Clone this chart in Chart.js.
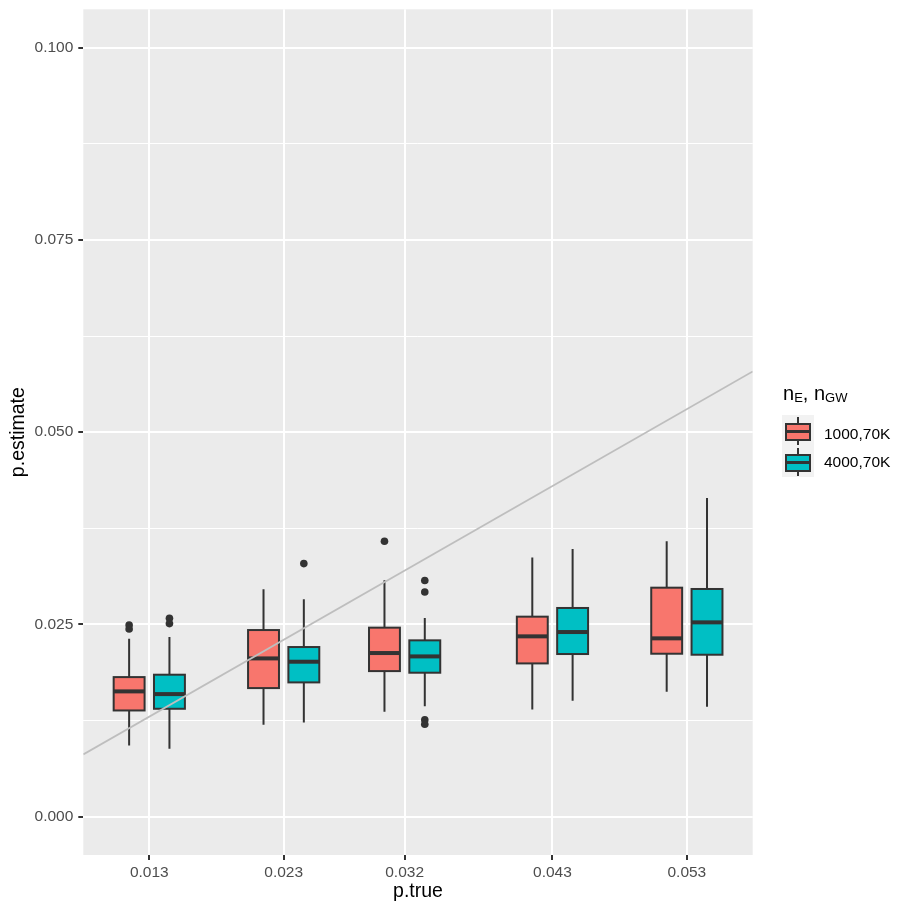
<!DOCTYPE html>
<html>
<head>
<meta charset="utf-8">
<script src="https://cdn.jsdelivr.net/npm/chart.js@4.4.1/dist/chart.umd.min.js"></script>
<style>
  html, body { margin: 0; padding: 0; background: #FFFFFF; }
  #wrap { position: relative; width: 913px; height: 913px; font-family: "Liberation Sans", Arial, sans-serif; }
  #c { position: absolute; left: 0; top: 0; }
  .lg { position: absolute; color: #000; white-space: nowrap; }
  .key { position: absolute; width: 32px; height: 31px; background: #F2F2F2; }
  .key .wh { position: absolute; left: 15px; top: 2px; width: 2px; height: 28px; background: #333333; }
  .key .bx { position: absolute; left: 3px; top: 7.5px; width: 21.5px; height: 14px; border: 2px solid #333333; }
  .key .md { position: absolute; left: 3px; top: 15.3px; width: 25.5px; height: 3px; background: #333333; }
  .lab { position: absolute; font-size: 15.5px; color: #000; }
</style>
</head>
<body>
<div id="wrap">
  <canvas id="c" width="913" height="913"></canvas>
  <div class="lg" style="left:783px; top:383px; font-size:20px; line-height:20px;">n<span style="font-size:13px; position:relative; top:2px;">E</span>, n<span style="font-size:13px; position:relative; top:2px;">GW</span></div>
  <div class="key" style="left:782px; top:415px;"><div class="wh"></div><div class="bx" style="background:#F8766D"></div><div class="md"></div></div>
  <div class="key" style="left:782px; top:446px;"><div class="wh"></div><div class="bx" style="background:#00BFC4"></div><div class="md"></div></div>
  <div class="lab" style="left:824px; top:425px;">1000,70K</div>
  <div class="lab" style="left:824px; top:453px;">4000,70K</div>
</div>
<script>
// ---- data ----
const pTrue = [0.013, 0.023, 0.032, 0.043, 0.053];
const seriesNames = ['1000,70K', '4000,70K'];
const seriesColors = ['#F8766D', '#00BFC4'];

const whiskerLow1000  = [0.00924, 0.01194, 0.01363, 0.01393, 0.01623];
const q1_1000         = [0.01380, 0.01671, 0.01892, 0.01992, 0.02118];
const median1000      = [0.01628, 0.02057, 0.02127, 0.02344, 0.02318];
const q3_1000         = [0.01814, 0.02426, 0.02457, 0.02600, 0.02977];
const whiskerHigh1000 = [0.02314, 0.02956, 0.03073, 0.03368, 0.03581];
const outlierCat1000  = [0, 0, 2];
const outlierVal1000  = [0.0249, 0.0244, 0.0358];

const whiskerLow4000  = [0.00881, 0.01224, 0.01436, 0.01506, 0.01428];
const q1_4000         = [0.01402, 0.01745, 0.01871, 0.02114, 0.02105];
const median4000      = [0.01593, 0.02014, 0.02083, 0.02400, 0.02526];
const q3_4000         = [0.01845, 0.02205, 0.02292, 0.02713, 0.02960];
const whiskerHigh4000 = [0.02335, 0.02826, 0.02582, 0.03481, 0.04145];
const outlierCat4000  = [0, 0, 1, 2, 2, 2, 2];
const outlierVal4000  = [0.0258, 0.0251, 0.0329, 0.0307, 0.0292, 0.0126, 0.0120];

const xTickValues = pTrue;
const yTickValues = [0, 0.0125, 0.025, 0.0375, 0.05, 0.0625, 0.075, 0.0875, 0.1];
const yMajorTicks = [0, 0.025, 0.05, 0.075, 0.1];

// ---- styling / layout constants ----
const X_MIN = 0.00809, X_MAX = 0.0579;
const Y_MIN = -0.005, Y_MAX = 0.105;
const DODGE = 0.0015;     // offset of each series from category centre
const BOX_W = 0.0023;     // box width in x units
const FONT = '"Liberation Sans", Arial, sans-serif';

const series = [
  { lo: whiskerLow1000, q1: q1_1000, med: median1000, q3: q3_1000, hi: whiskerHigh1000, oc: outlierCat1000, ov: outlierVal1000 },
  { lo: whiskerLow4000, q1: q1_4000, med: median4000, q3: q3_4000, hi: whiskerHigh4000, oc: outlierCat4000, ov: outlierVal4000 }
];
const offsets = [-DODGE, DODGE];

function isMajor(v) {
  return yMajorTicks.some(m => Math.abs(m - v) < 1e-9);
}

const bgPlugin = {
  id: 'panelBg',
  beforeDraw(chart) {
    const { ctx, chartArea: a } = chart;
    ctx.save();
    ctx.fillStyle = '#EBEBEB';
    ctx.fillRect(a.left, a.top, a.right - a.left, a.bottom - a.top);
    ctx.restore();
  }
};

const boxPlugin = {
  id: 'boxes',
  beforeDatasetsDraw(chart) {
    const { ctx, scales: { x, y } } = chart;
    ctx.save();
    series.forEach((s, g) => {
      pTrue.forEach((p, i) => {
        const cx = x.getPixelForValue(p + offsets[g]);
        const l = x.getPixelForValue(p + offsets[g] - BOX_W / 2);
        const r = x.getPixelForValue(p + offsets[g] + BOX_W / 2);
        const yLo = y.getPixelForValue(s.lo[i]);
        const yQ1 = y.getPixelForValue(s.q1[i]);
        const yMed = y.getPixelForValue(s.med[i]);
        const yQ3 = y.getPixelForValue(s.q3[i]);
        const yHi = y.getPixelForValue(s.hi[i]);
        ctx.strokeStyle = '#333333';
        ctx.lineWidth = 2;
        ctx.beginPath();
        ctx.moveTo(cx, yHi); ctx.lineTo(cx, yQ3);
        ctx.moveTo(cx, yQ1); ctx.lineTo(cx, yLo);
        ctx.stroke();
        ctx.fillStyle = seriesColors[g];
        ctx.fillRect(l, yQ3, r - l, yQ1 - yQ3);
        ctx.strokeRect(l, yQ3, r - l, yQ1 - yQ3);
        ctx.lineWidth = 4;
        ctx.beginPath();
        ctx.moveTo(l, yMed); ctx.lineTo(r, yMed);
        ctx.stroke();
      });
    });
    ctx.restore();
  }
};

const refLine = [{ x: X_MIN, y: X_MIN }, { x: X_MAX, y: X_MAX }];

const outlierSets = series.map((s, g) => ({
  type: 'scatter',
  label: seriesNames[g] + ' outliers',
  data: s.oc.map((c, k) => ({ x: pTrue[c] + offsets[g], y: s.ov[k] })),
  pointRadius: 3.8,
  pointBackgroundColor: '#333333',
  pointBorderWidth: 0,
  order: 1
}));

function zeroPad(s) {
  s.paddingTop = 0; s.paddingBottom = 0; s.paddingLeft = 0; s.paddingRight = 0;
}

new Chart(document.getElementById('c'), {
  type: 'scatter',
  data: {
    datasets: [
      {
        type: 'line',
        label: 'y = x',
        data: refLine,
        borderColor: '#BEBEBE',
        borderWidth: 1.8,
        pointRadius: 0,
        fill: false,
        order: 2
      },
      ...outlierSets
    ]
  },
  options: {
    responsive: false,
    animation: false,
    devicePixelRatio: 1,
    layout: { padding: { left: 0, top: 9.3, right: 160.3, bottom: 0 } },
    plugins: { legend: { display: false }, tooltip: { enabled: false } },
    scales: {
      x: {
        type: 'linear',
        min: X_MIN, max: X_MAX,
        afterBuildTicks: s => { s.ticks = xTickValues.map(v => ({ value: v })); },
        afterFit: s => { s.height = 58; zeroPad(s); },
        ticks: {
          autoSkip: false, maxRotation: 0,
          callback: v => v.toFixed(3),
          color: '#4D4D4D',
          font: { family: FONT, size: 15.5 },
          padding: 3
        },
        grid: { color: '#FFFFFF', lineWidth: 2, tickColor: '#333333', tickLength: 5, drawTicks: true },
        border: { display: false },
        title: { display: true, text: 'p.true', color: '#000000', font: { family: FONT, size: 19.5 }, padding: { top: 0, bottom: 10 } }
      },
      y: {
        type: 'linear',
        min: Y_MIN, max: Y_MAX,
        afterBuildTicks: s => { s.ticks = yTickValues.map(v => ({ value: v })); },
        afterFit: s => { s.width = 83.3; zeroPad(s); },
        ticks: {
          autoSkip: false,
          callback: v => isMajor(v) ? v.toFixed(3) : '',
          color: '#4D4D4D',
          font: { family: FONT, size: 15.5 },
          padding: 5
        },
        grid: {
          color: '#FFFFFF',
          lineWidth: c => isMajor(c.tick.value) ? 2 : 1,
          tickColor: c => isMajor(c.tick.value) ? '#333333' : 'rgba(0,0,0,0)',
          tickLength: 5,
          drawTicks: true
        },
        border: { display: false },
        title: { display: true, text: 'p.estimate', color: '#000000', font: { family: FONT, size: 19.5 }, padding: { top: 7, bottom: 0 } }
      }
    }
  },
  plugins: [bgPlugin, boxPlugin]
});
</script>
</body>
</html>
